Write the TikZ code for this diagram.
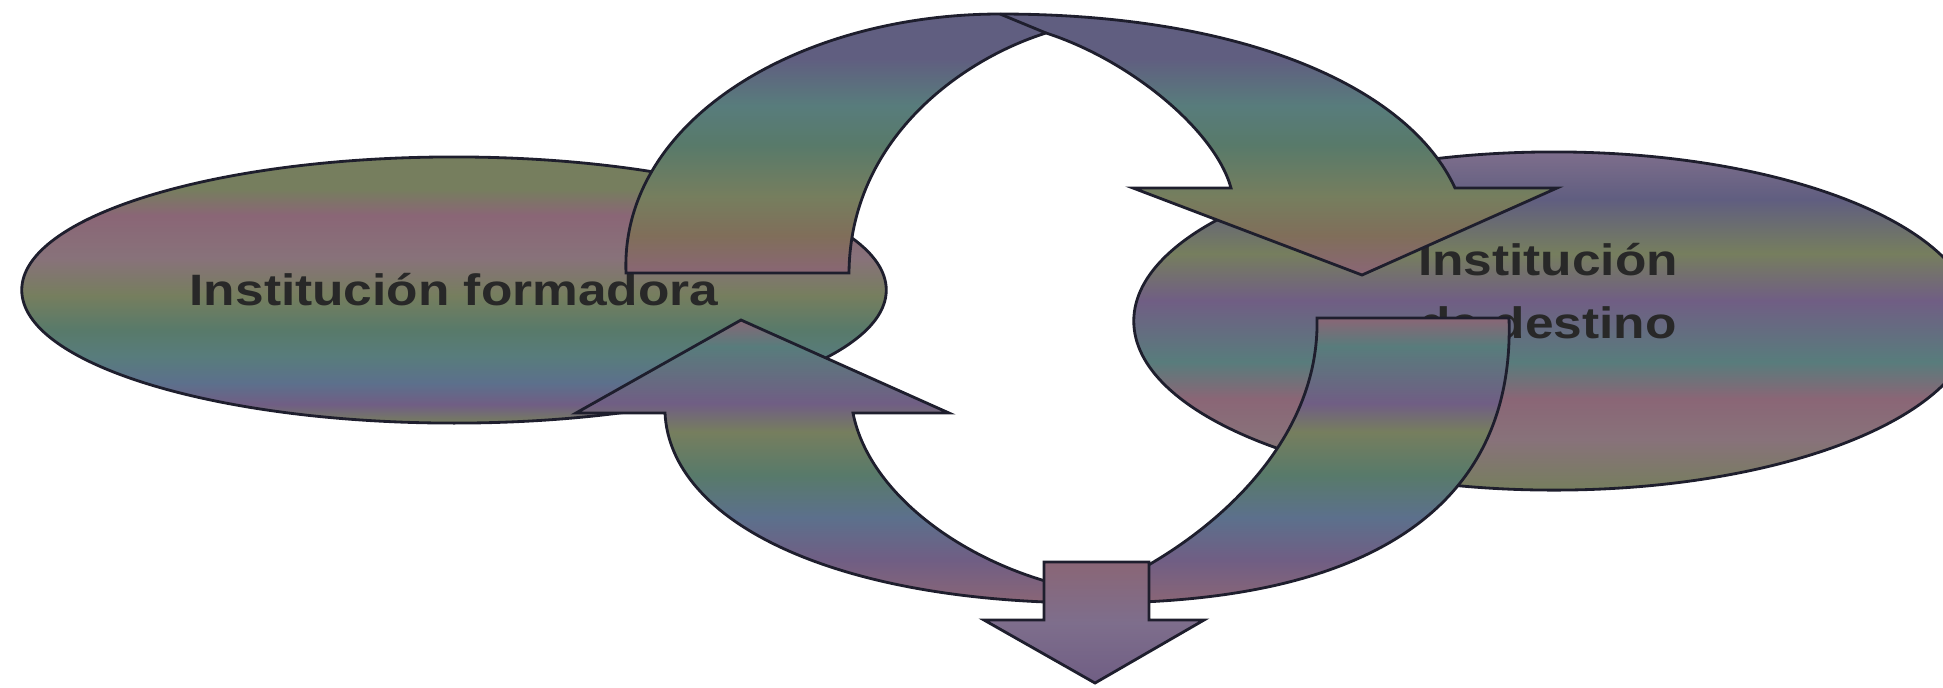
\documentclass[tikz,border=0pt]{standalone}
\usepackage{fontspec}
\setmainfont{Liberation Sans}
\definecolor{inolive}{RGB}{118,126,94}
\definecolor{inmauve}{RGB}{136,114,122}
\definecolor{inteal}{RGB}{88,124,124}
\definecolor{inblue}{RGB}{92,112,140}
\definecolor{inplum}{RGB}{112,94,132}
\definecolor{inslate}{RGB}{96,94,128}
\definecolor{ingreen}{RGB}{88,122,106}
\definecolor{inbrown}{RGB}{128,110,90}
\definecolor{inlilac}{RGB}{126,110,140}
\definecolor{inrose}{RGB}{138,102,118}
\definecolor{inline}{RGB}{30,30,45}
\definecolor{intext}{RGB}{40,40,40}
\usetikzlibrary{shapes.geometric}
\pgfdeclareverticalshading{formbands}{100bp}{color(0bp)=(inolive); color(25bp)=(inolive);
  color(28.5bp)=(inplum); color(32.5bp)=(inblue); color(37.5bp)=(inteal); color(42.5bp)=(ingreen);
  color(49bp)=(inolive); color(56bp)=(inmauve); color(64bp)=(inrose); color(69bp)=(inolive);
  color(75bp)=(inolive); color(100bp)=(inolive)}
\pgfdeclareverticalshading{destbands}{100bp}{color(0bp)=(inolive); color(25bp)=(inolive);
  color(32.5bp)=(inmauve); color(38.5bp)=(inrose); color(44bp)=(inteal); color(53bp)=(inplum);
  color(60bp)=(inolive); color(68bp)=(inslate); color(75bp)=(inlilac); color(100bp)=(inlilac)}
\pgfdeclareverticalshading{topbands}{100bp}{color(0bp)=(inrose); color(25bp)=(inrose);
  color(32.5bp)=(inbrown); color(40bp)=(inolive); color(50bp)=(ingreen); color(57.5bp)=(inteal);
  color(66.5bp)=(inslate); color(75bp)=(inslate); color(100bp)=(inslate)}
\pgfdeclareverticalshading{lowbands}{100bp}{color(0bp)=(inrose); color(25bp)=(inrose);
  color(32.5bp)=(inplum); color(40bp)=(inblue); color(47.5bp)=(ingreen); color(55bp)=(inolive);
  color(60bp)=(inplum); color(70bp)=(inteal); color(75bp)=(inrose); color(100bp)=(inrose)}
\pgfdeclareverticalshading{downbands}{100bp}{color(0bp)=(inplum); color(25bp)=(inplum);
  color(50bp)=(inlilac); color(75bp)=(inrose); color(100bp)=(inrose)}
\newcommand{\widetxt}[1]{\scalebox{1.17}[1]{#1}}

\begin{document}
\begin{tikzpicture}[x=0.01cm,y=-0.01cm,
  inst/.style={ellipse,draw=inline,line width=0.8pt,shade,inner sep=0pt,
    font=\fontsize{12.5}{17.9}\selectfont\bfseries,text=intext},
  lbl/.style={font=\fontsize{12.5}{17.9}\selectfont\bfseries,text=intext,align=center,inner sep=0pt},
  blockarrow/.style={draw=inline,line width=0.8pt,shade}
]
  \useasboundingbox (0,0) rectangle (1943,687);
  \node[inst,shading=formbands,minimum width=8.64cm,minimum height=2.66cm] (formadora) at (454,290) {\widetxt{Institución formadora}};
  \node[inst,shading=destbands,minimum width=8.4cm,minimum height=3.38cm] (destino) at (1554,321) {};
  \node[lbl] (destinoText) at (1548,291) {\widetxt{Institución}\\\widetxt{de destino}};
  % upper arrow, left to right
  \path[blockarrow,shading=topbands] (626,273) .. controls (620,120) and (800,14) .. (1000,14)
    .. controls (1250,14) and (1410,90) .. (1455,188) -- (1557,188) -- (1362,275) -- (1133,188) -- (1231,188)
    .. controls (1215,130) and (1130,60) .. (1046,33)
    .. controls (960,60) and (850,140) .. (849,273) -- cycle;
  \coordinate (cusp) at (1046,33);
  \draw[draw=inline,line width=0.8pt] (cusp) -- (1000,14);
  % lower arrow, right to left
  \path[blockarrow,shading=lowbands] (1509,318) .. controls (1515,500) and (1380,603) .. (1095,603)
    .. controls (830,603) and (670,520) .. (665,413) -- (576,413) -- (741,320) -- (949,413) -- (853,413)
    .. controls (870,500) and (980,575) .. (1095,592)
    .. controls (1215,540) and (1320,440) .. (1317,318) -- cycle;
  \path[blockarrow,shading=downbands] (1044,562) -- (1149,562) -- (1149,620) -- (1204,620)
    -- (1095,683) -- (984,620) -- (1044,620) -- cycle;
\end{tikzpicture}
\end{document}
